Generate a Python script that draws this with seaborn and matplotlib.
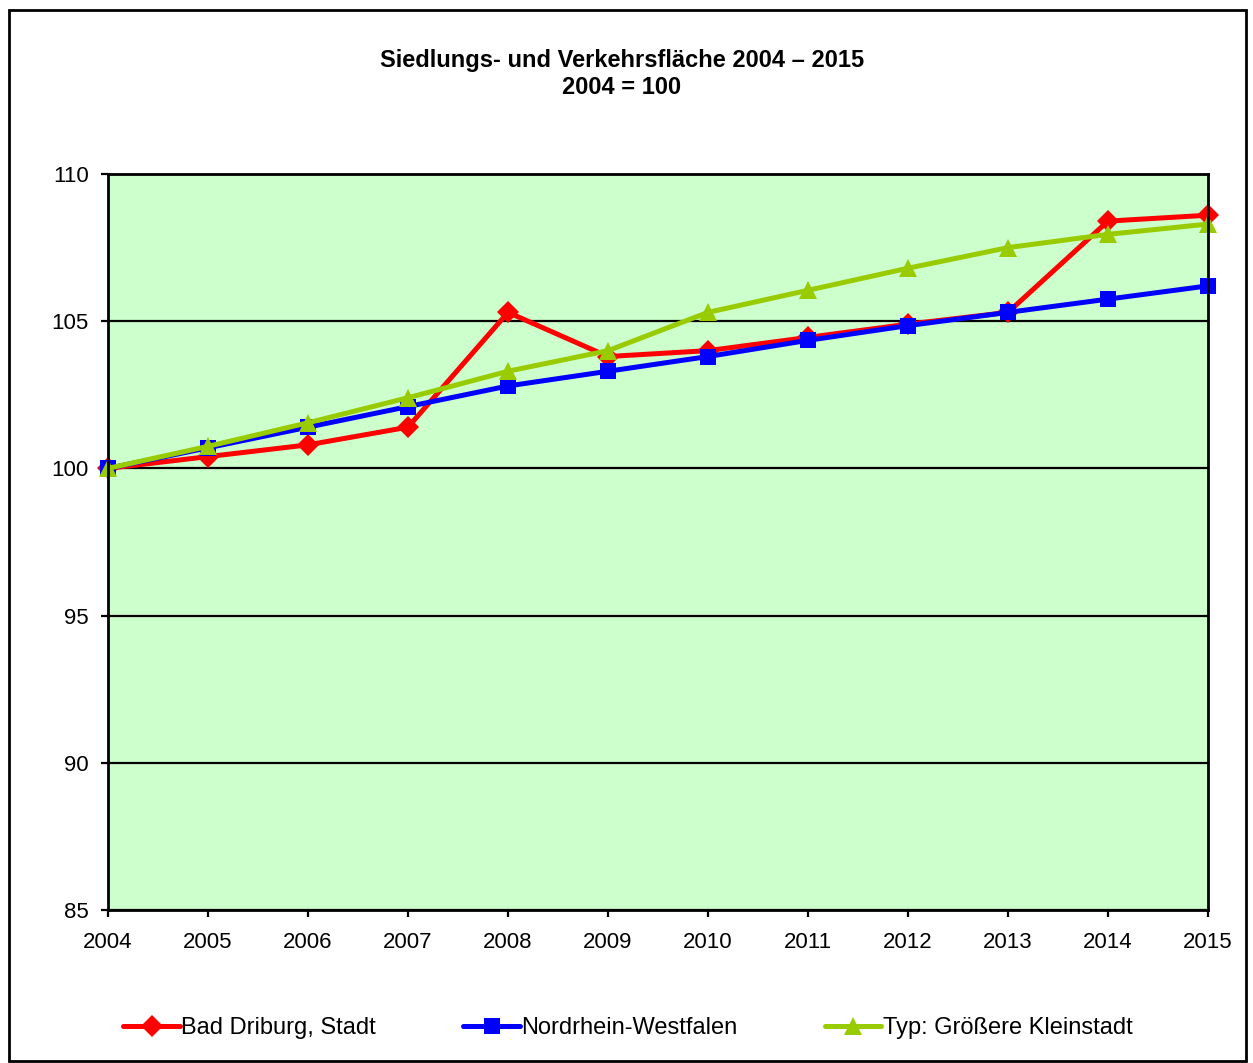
import numpy as np
import pandas as pd
import matplotlib
matplotlib.use("Agg")
import matplotlib.pyplot as plt
from matplotlib.patches import Rectangle
import seaborn as sns

# ---------------------------------------------------------------------------
# Data (index, 2004 = 100)
# ---------------------------------------------------------------------------
years = [2004, 2005, 2006, 2007, 2008, 2009, 2010, 2011, 2012, 2013, 2014, 2015]
bad_driburg = [100.0, 100.4, 100.8, 101.4, 105.3, 103.8, 104.0, 104.45, 104.9, 105.3, 108.4, 108.6]
nrw = [100.0, 100.7, 101.4, 102.1, 102.8, 103.3, 103.8, 104.35, 104.85, 105.3, 105.75, 106.2]
kleinstadt = [100.0, 100.75, 101.55, 102.4, 103.3, 104.0, 105.3, 106.05, 106.8, 107.5, 107.95, 108.3]

series_names = ["Bad Driburg, Stadt", "Nordrhein-Westfalen", "Typ: Größere Kleinstadt"]
y_ticks = [85, 90, 95, 100, 105, 110]

df = pd.DataFrame({
    "Jahr": years * 3,
    "Index": bad_driburg + nrw + kleinstadt,
    "Reihe": [series_names[0]] * len(years)
             + [series_names[1]] * len(years)
             + [series_names[2]] * len(years),
})

colors = {series_names[0]: "#FF0000", series_names[1]: "#0000FF", series_names[2]: "#99CC00"}
markers = {series_names[0]: "D", series_names[1]: "s", series_names[2]: "^"}
msizes = {series_names[0]: 11, series_names[1]: 12, series_names[2]: 13}

sns.set_theme(style="white")
plt.rcParams["font.family"] = ["Liberation Sans", "DejaVu Sans"]
plt.rcParams["text.color"] = "black"

fig = plt.figure(figsize=(12.53, 10.63), dpi=100)
ax = fig.add_axes([108 / 1253, 1 - 910 / 1063, 1100 / 1253, 736 / 1063])
ax.set_facecolor("#CCFFCC")

for name in series_names:
    sub = df[df["Reihe"] == name]
    sns.lineplot(
        data=sub, x="Jahr", y="Index", ax=ax,
        color=colors[name], linewidth=3.6,
        marker=markers[name], markersize=msizes[name],
        markeredgewidth=0, label=name, clip_on=False,
    )

ax.set_xlim(years[0], years[-1])
ax.set_ylim(85, 110)
ax.set_xticks(years)
ax.set_yticks(y_ticks)
ax.set_xlabel("")
ax.set_ylabel("")
ax.yaxis.grid(True, color="black", linewidth=1.6)
ax.xaxis.grid(False)
ax.set_axisbelow(True)
for side in ["left", "bottom", "right", "top"]:
    ax.spines[side].set_color("black")
    ax.spines[side].set_linewidth(2)
ax.tick_params(axis="both", which="both", direction="out", length=5, width=1.6,
               color="black", labelsize=16, labelcolor="black")
ax.tick_params(axis="x", bottom=True, pad=11)
ax.tick_params(axis="y", left=True, pad=9)

ax.get_legend().remove()
handles, labels = ax.get_legend_handles_labels()
fig.legend(handles, labels, loc="center", bbox_to_anchor=(0.501, 1 - 1028 / 1063),
           ncol=3, frameon=False, fontsize=17, handlelength=2.4, handletextpad=0.05,
           columnspacing=3.7, numpoints=1, labelcolor="black")

fig.text(622 / 1253, 1 - 60 / 1063, "Siedlungs- und Verkehrsfläche 2004 – 2015",
         ha="center", va="center", fontsize=17, fontweight="bold", color="black")
fig.text(622 / 1253, 1 - 87 / 1063, "2004 = 100",
         ha="center", va="center", fontsize=17, fontweight="bold", color="black")

# outer chart frame
fig.patches.append(Rectangle((9 / 1253, 1 - 1061 / 1063), 1237 / 1253, 1051 / 1063,
                             transform=fig.transFigure, fill=False,
                             edgecolor="black", linewidth=2))

fig.savefig("out.png", dpi=100)
plt.close(fig)
